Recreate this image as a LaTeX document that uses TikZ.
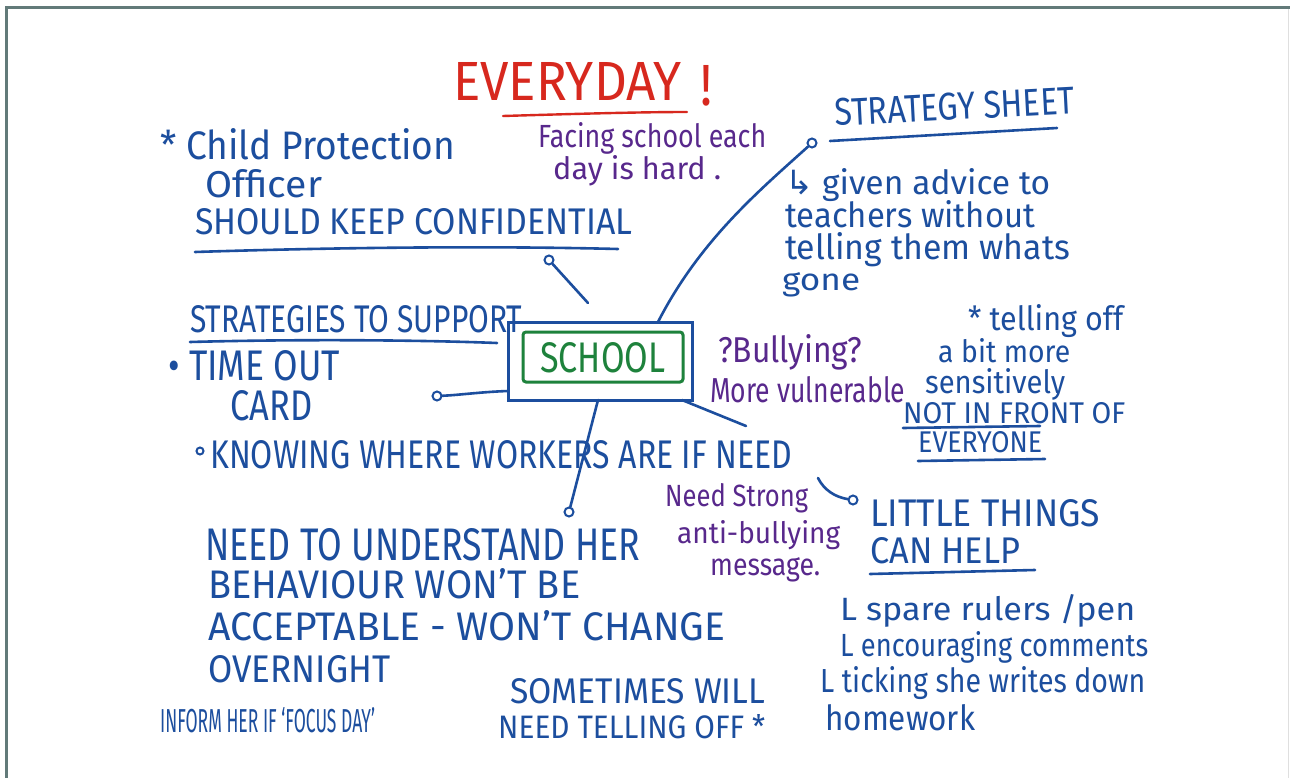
\documentclass[tikz,border=0pt]{standalone}
\usepackage{fontspec}
\setmainfont{Fira Sans}
\newfontfamily\djv{DejaVu Sans}
\usepackage{graphicx}
\definecolor{penblue}{RGB}{28,78,158}
\definecolor{penpurple}{RGB}{88,40,140}
\definecolor{pengreen}{RGB}{30,130,60}
\definecolor{penred}{RGB}{215,40,30}
\definecolor{framec}{RGB}{98,122,121}
\newcommand{\fh}[3]{\resizebox{#1pt}{#2pt}{#3}}
\begin{document}
\begin{tikzpicture}[x=1pt,y=-1pt,
  txt/.style={anchor=base west,inner sep=0pt},
  blu/.style={txt,text=penblue},
  pur/.style={txt,text=penpurple},
  pen/.style={draw=penblue,line width=2.6pt,line cap=round},
  endo/.style={circle,draw=penblue,line width=2pt,minimum size=9pt,inner sep=0pt}]
\useasboundingbox (0,0) rectangle (1290,778);
\fill[white] (0,0) rectangle (1290,778);
% frame
\draw[framec,line width=3pt] (6,778) -- (6,8) -- (1290,8);
\draw[gray!25,line width=1pt] (1288.5,9) -- (1288.5,778);

% title
\node[txt,text=penred] (title) at (453,101) {\fh{228}{38}{EVERYDAY}};
\node[txt,text=penred] (bang) at (700,106) {\fh{12}{40}{!}};
\draw[penred,line width=2.4pt,line cap=round] (503,116) .. controls (570,114) and (640,112) .. (687,112);

\node[pur] (face1) at (538,148) {\fh{228}{25}{Facing school each}};
\node[pur] (face2) at (553,180) {\fh{168}{24}{day is hard .}};

% child protection
\node[blu] (cp1) at (160,160) {\fh{295}{31}{* Child Protection}};
\node[blu] (cp2) at (205,197) {\fh{117}{28}{Officer}};
\node[blu] (cp3) at (195,234) {\fh{437}{26}{SHOULD KEEP CONFIDENTIAL}};
\draw[pen] (195,252) .. controls (350,247) and (500,246) .. (618,249);

% strategy sheet
\node[blu,rotate=3] (ss) at (835,126) {\fh{240}{27}{STRATEGY SHEET}};
\draw[pen] (830,141) -- (1057,128);
\node[blu] (ss1) at (785,194) {\fh{265}{26}{{\djv ↳} given advice to}};
\node[blu] (ss2) at (785,227) {\fh{250}{27}{teachers without}};
\node[blu] (ss3) at (785,259) {\fh{285}{27}{telling them whats}};
\node[blu] (ss4) at (782,290) {\fh{78}{18}{gone}};

% strategies to support
\node[blu] (sts) at (190,332) {\fh{332}{27}{STRATEGIES TO SUPPORT}};
\draw[pen] (190,342) .. controls (300,339) and (420,340) .. (497,343);
\node[blu] (to1) at (168,380) {\fh{172}{30}{• TIME OUT}};
\node[blu] (to2) at (230,420) {\fh{82}{30}{CARD}};

% school box
\node[draw=penblue,line width=3pt,minimum width=184pt,minimum height=78pt,inner sep=0pt] (box) at (600,361) {};
\node[draw=pengreen,line width=3pt,minimum width=160pt,minimum height=50pt,inner sep=0pt,rounded corners=3pt] (inner) at (603,357) {};
\node[txt,text=pengreen] (school) at (540,372) {\fh{125}{30}{SCHOOL}};

% bullying
\node[pur] (bul1) at (718,362) {\fh{144}{28}{?Bullying?}};
\node[pur] (bul2) at (710,402) {\fh{195}{26}{More vulnerable}};

% telling off
\node[blu] (tel1) at (968,330) {\fh{155}{26}{* telling off}};
\node[blu] (tel2) at (938,362) {\fh{132}{24}{a bit more}};
\node[blu] (tel3) at (925,393) {\fh{140}{25}{sensitively}};
\node[blu] (tel4) at (903,423) {\fh{222}{21}{NOT IN FRONT OF}};
\draw[pen] (903,428) -- (1040,426);
\node[blu] (tel5) at (918,452) {\fh{124}{21}{EVERYONE}};
\draw[pen] (918,461) -- (1045,459);

% knowing
\node[endo,minimum size=7pt] (kb) at (200,451) {};
\node[blu] (know) at (210,468) {\fh{582}{28}{KNOWING WHERE WORKERS ARE IF NEED}};

% need to understand
\node[blu] (nu1) at (205,560) {\fh{435}{32}{NEED TO UNDERSTAND HER}};
\node[blu] (nu2) at (208,598) {\fh{372}{30}{BEHAVIOUR WON'T BE}};
\node[blu] (nu3) at (208,640) {\fh{517}{30}{ACCEPTABLE - WON'T CHANGE}};
\node[blu] (nu4) at (208,682) {\fh{182}{27}{OVERNIGHT}};

% anti-bullying
\node[pur] (ab1) at (665,506) {\fh{143}{23}{Need Strong}};
\node[pur] (ab2) at (677,543) {\fh{163}{23}{anti-bullying}};
\node[pur] (ab3) at (710,575) {\fh{110}{18}{message.}};

% little things
\node[blu] (lt1) at (870,526) {\fh{230}{27}{LITTLE THINGS}};
\node[blu] (lt2) at (870,563) {\fh{150}{26}{CAN HELP}};
\draw[pen] (870,574) -- (1035,570);
\node[blu] (lt3) at (840,620) {\fh{295}{26}{L spare rulers /pen}};
\node[blu] (lt4) at (840,656) {\fh{308}{25}{L encouraging comments}};
\node[blu] (lt5) at (820,692) {\fh{325}{26}{L ticking she writes down}};
\node[blu] (lt6) at (825,730) {\fh{150}{26}{homework}};

% bottom
\node[blu] (inf) at (160,732) {\fh{215}{25}{INFORM HER IF ‘FOCUS DAY’}};
\node[blu] (st1) at (510,703) {\fh{255}{25}{SOMETIMES WILL}};
\node[blu] (st2) at (498,738) {\fh{267}{24}{NEED TELLING OFF *}};

% connectors
\node[endo] (d1) at (549,260) {};
\coordinate (e1) at (588,303);
\draw[pen] (d1) -- (e1);
\node[endo] (d2) at (812,143) {};
\coordinate (s2) at (658,322);
\draw[pen] (s2) .. controls (700,240) and (760,190) .. (d2);
\node[endo] (d3) at (437,396) {};
\coordinate (s3) at (508,391);
\draw[pen] (s3) .. controls (480,392) and (460,395) .. (d3);
\node[endo] (d4) at (569,512) {};
\coordinate (s4) at (598,400);
\draw[pen] (s4) -- (d4);
\coordinate (s5) at (682,400);
\coordinate (e5) at (746,426);
\draw[pen] (s5) -- (e5);
\coordinate (s6) at (818,478);
\node[endo] (d6) at (853,500) {};
\draw[pen] (s6) .. controls (824,490) and (835,497) .. (d6);
\end{tikzpicture}
\end{document}
